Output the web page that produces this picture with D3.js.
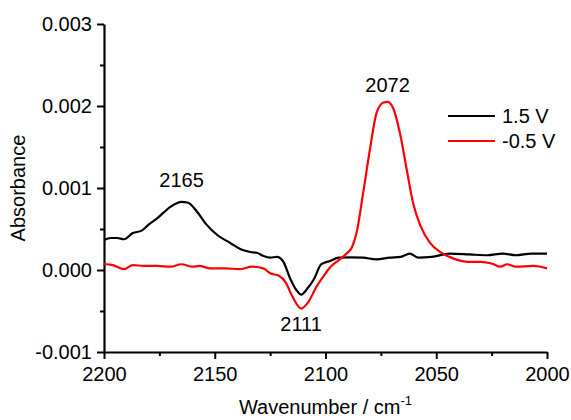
<!DOCTYPE html>
<html>
<head>
<meta charset="utf-8">
<script src="https://cdn.jsdelivr.net/npm/d3@7"></script>
<style>
body { margin:0; background:#fff; }
svg { font-family: "Liberation Sans", Arial, sans-serif; }
</style>
</head>
<body>
<svg class="myChart" width="571" height="420"></svg>
<script>
// wavenumber (cm-1) and absorbance
const waveBlack = [2200,2197,2194,2191,2187,2183,2180,2176,2170,2165,2162,2158,2153.6,2149,2143,2138,2134,2131,2128,2125,2122,2119,2116,2113,2111,2108,2105,2102,2098,2094,2089,2083,2077,2071,2066,2062,2058,2052,2044,2035,2027,2020,2014,2007,2000];
const absBlack = [0.000366,0.00039,0.00039,0.000375,0.00045,0.00048,0.00055,0.00063,0.00077,0.00083,0.00082,0.00071,0.00055,0.00043,0.00033,0.00025,0.00022,0.00021,0.00017,0.00015,0.00016,0.0001,-0.0001,-0.00025,-0.0003,-0.00022,-0.0001,0.00007,0.00011,0.00015,0.000155,0.00015,0.00013,0.00015,0.00016,0.0002,0.00015,0.00016,0.0002,0.00019,0.00018,0.0002,0.00018,0.0002,0.0002];

const waveRed = [2200,2196,2191,2187,2182,2176,2170,2165,2160,2157,2152,2145,2139,2133,2128,2125,2121,2118,2115,2111,2108,2104,2101,2098,2094,2090.5,2088,2086,2083,2080,2077,2074,2072,2069.4,2066.4,2063.3,2060.4,2057.3,2052.8,2048.3,2044,2040,2036,2030,2025,2021,2018,2014,2006,2000];
const absRed = [0.000073,0.00006,0.00001,0.00006,0.00005,0.00005,0.00004,0.00007,0.00004,0.00005,0.00002,0.00002,0.00001,0.00004,0.00002,-0.00004,-0.00007,-0.00015,-0.00032,-0.00047,-0.0004,-0.0002,-0.00008,0.00003,0.00012,0.0002,0.00028,0.00045,0.00094,0.00146,0.00191,0.00204,0.00205,0.00197,0.00167,0.00122,0.00081,0.00055,0.00033,0.00022,0.00016,0.00012,0.0001,0.0001,0.00008,0.00004,0.00007,0.00004,0.00005,0.00002];

const seriesNames = ["1.5 V", "-0.5 V"];
const seriesColors = ["#000000", "#ff0000"];

const xTicks = [2200, 2150, 2100, 2050, 2000];
const xMinor = [2175, 2125, 2075, 2025];
const yTicks = [-0.001, 0.000, 0.001, 0.002, 0.003];
const yMinor = [-0.0005, 0.0005, 0.0015, 0.0025];

// peak labels: wavenumber + absorbance where the text baseline sits
const peakLabels = [
	{label:"2165", w:2165, a:0.00101},
	{label:"2072", w:2072, a:0.00217},
	{label:"2111", w:2111, a:-0.00074}
];

const margin = {top:24, right:24, bottom:68, left:104};
const svg = d3.select('svg.myChart');
const innerWidth = 571 - margin.left - margin.right;
const innerHeight = 420 - margin.top - margin.bottom;

const xScale = d3.scaleLinear().domain([2200, 2000]).range([0, innerWidth]);
const yScale = d3.scaleLinear().domain([-0.001, 0.003]).range([innerHeight, 0]);

const g = svg.append('g')
	.attr('transform', `translate(${margin.left}, ${margin.top})`);

const fontSize = 20;
const yFmt = d => d3.format('.3f')(d).replace('\u2212', '-');

// minor ticks
g.append('g').attr('transform', `translate(0,${innerHeight})`)
	.call(d3.axisBottom(xScale).tickValues(xMinor).tickSize(4).tickFormat(''))
	.call(a => { a.select('.domain').remove(); a.selectAll('text').remove(); })
	.selectAll('line').attr('stroke-width', 2);
g.append('g')
	.call(d3.axisLeft(yScale).tickValues(yMinor).tickSize(4).tickFormat(''))
	.call(a => { a.select('.domain').remove(); a.selectAll('text').remove(); })
	.selectAll('line').attr('stroke-width', 2);

// major axes
const xAxis = g.append('g').attr('transform', `translate(0,${innerHeight})`)
	.call(d3.axisBottom(xScale).tickValues(xTicks).tickSize(7).tickSizeOuter(0).tickPadding(8).tickFormat(d3.format('d')));
const yAxis = g.append('g')
	.call(d3.axisLeft(yScale).tickValues(yTicks).tickSize(7).tickSizeOuter(0).tickPadding(5).tickFormat(yFmt));

[xAxis, yAxis].forEach(a => {
	a.select('.domain').attr('stroke-width', 2.2);
	a.selectAll('line').attr('stroke-width', 2);
	a.selectAll('text').attr('font-size', fontSize + 'px').attr('font-family', '"Liberation Sans", Arial, sans-serif').attr('fill', '#000');
});
xAxis.selectAll('text').attr('dy', '0.7em');

// axis titles
const xt = svg.append('text')
	.attr('x', margin.left + innerWidth / 2)
	.attr('y', 414)
	.attr('text-anchor', 'middle')
	.attr('font-size', fontSize + 'px');
xt.append('tspan').text('Wavenumber / cm');
xt.append('tspan').attr('font-size', '13px').attr('dy', '-9').text('-1');

svg.append('text')
	.attr('transform', `translate(25, ${margin.top + innerHeight / 2}) rotate(-90)`)
	.attr('text-anchor', 'middle')
	.attr('font-size', fontSize + 'px')
	.text('Absorbance');

// curves
const series = [
	waveBlack.map((w, i) => ({w, a: absBlack[i]})),
	waveRed.map((w, i) => ({w, a: absRed[i]}))
];
const line = d3.line()
	.x(d => xScale(d.w))
	.y(d => yScale(d.a))
	.curve(d3.curveMonotoneX);

g.selectAll('path.curve').data(series)
	.enter().append('path')
	.attr('class', 'curve')
	.attr('d', line)
	.attr('fill', 'none')
	.attr('stroke', (d, i) => seriesColors[i])
	.attr('stroke-width', 2.2)
	.attr('stroke-linejoin', 'round');

// peak labels
g.selectAll('.peak').data(peakLabels)
	.enter().append('text')
	.attr('class', 'peak')
	.attr('x', d => xScale(d.w))
	.attr('y', d => yScale(d.a))
	.attr('text-anchor', 'middle')
	.attr('font-size', fontSize + 'px')
	.text(d => d.label);

// legend
const legend = svg.append('g').attr('transform', 'translate(448, 116)');
seriesNames.forEach((name, i) => {
	const row = legend.append('g').attr('transform', `translate(0, ${i * 25})`);
	row.append('line').attr('x1', 0).attr('x2', 47).attr('y1', 0).attr('y2', 0)
		.attr('stroke', seriesColors[i]).attr('stroke-width', 2.2);
	row.append('text').attr('x', 54).attr('y', 7).attr('font-size', fontSize + 'px').text(name);
});
</script>
</body>
</html>
